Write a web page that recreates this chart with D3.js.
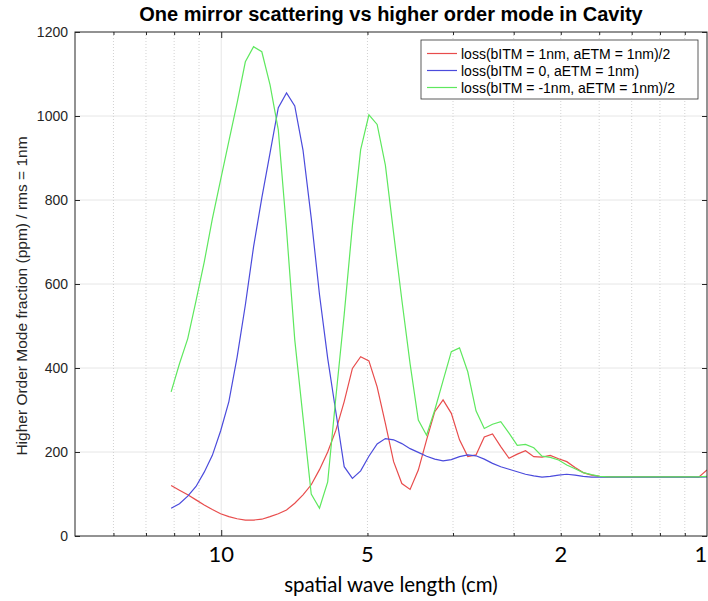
<!DOCTYPE html>
<html>
<head>
<meta charset="utf-8">
<script src="https://cdn.jsdelivr.net/npm/d3@7"></script>
<style>
  body { margin: 0; background: #fff; }
  text { font-family: "Liberation Sans", Arial, Helvetica, sans-serif; }
</style>
</head>
<body>
<div id="chart"></div>
<script>
// spatial wave length (cm) of every sample
var wavelength = [12.68,12.19,11.72,11.27,10.84,10.43,10.03,9.644,9.275,8.920,8.578,8.250,7.934,7.630,7.338,7.057,6.787,6.527,6.277,6.037,
  5.806,5.583,5.370,5.164,4.966,4.776,4.593,4.417,4.248,4.085,3.929,3.778,3.634,3.494,3.360,3.232,3.108,2.989,2.874,2.764,
  2.658,2.556,2.458,2.364,2.273,2.186,2.102,2.021,1.944,1.869,1.798,1.729,1.662,1.599,1.537,1.478,1.422,1.367,1.315,1.264,
  1.216,1.169,1.125,1.081,1.040,1.000];

// loss(bITM = 1nm, aETM = 1nm)/2
var lossRed = [120,109,98,86,74,63,53,46,41,38,38,40,46,53,62,78,98,122,158,200,
  252,320,399,427,417,355,268,177,125,111,157,229,296,324,292,229,189,193,236,243,
  213,185,195,203,189,188,192,184,177,163,151,145,142,141,141,141,141,141,141,141,
  141,141,141,141,140,157];

// loss(bITM = 0, aETM = 1nm)
var lossBlue = [66,77,95,118,152,192,250,320,426,550,689,805,912,1020,1055,1024,919,757,575,423,
  294,165,137,155,190,219,232,229,220,208,199,190,183,179,182,189,193,191,183,173,
  165,159,153,147,143,140,142,145,147,145,142,140,140,140,140,140,140,140,140,140,
  140,140,140,140,140,141];

// loss(bITM = -1nm, aETM = 1nm)/2
var lossGreen = [343,410,470,560,652,755,848,940,1031,1129,1165,1153,1074,967,729,467,283,100,66,129,
  332,527,739,920,1003,980,883,721,562,410,276,240,300,370,439,448,391,298,256,266,
  272,245,216,218,210,190,187,181,169,160,151,146,142,141,141,141,141,141,141,141,
  141,141,141,141,141,142];

var seriesNames  = ["loss(bITM = 1nm, aETM = 1nm)/2", "loss(bITM = 0, aETM = 1nm)", "loss(bITM = -1nm, aETM = 1nm)/2"];
var seriesColors = ["#e84c4c", "#4b4bdc", "#5ee85e"];

var xTickValues = [10, 5, 2, 1];
var xMinorTicks = [16.667, 14.286, 12.5, 11.111, 5, 3.333, 2.5, 2, 1.667, 1.429, 1.25, 1.111];
var xMajorGrid  = [10];
var yTickValues = [0, 200, 400, 600, 800, 1000, 1200];

var svgWidth = 708, svgHeight = 601;
var plotLeft = 75, plotRight = 707, plotTop = 32, plotBottom = 536;

var svg = d3.select("#chart").append("svg")
  .attr("width", svgWidth).attr("height", svgHeight);

var x = d3.scaleLog().domain([20, 1]).range([plotLeft, plotRight]);
var y = d3.scaleLinear().domain([0, 1200]).range([plotBottom, plotTop]);

// grid
svg.append("g").selectAll("line").data(yTickValues.slice(1, -1)).enter().append("line")
  .attr("x1", plotLeft).attr("x2", plotRight)
  .attr("y1", function(d) { return y(d); }).attr("y2", function(d) { return y(d); })
  .style("stroke", "#e6e6e6").style("stroke-width", 1);
svg.append("g").selectAll("line").data(xMinorTicks).enter().append("line")
  .attr("x1", function(d) { return x(d); }).attr("x2", function(d) { return x(d); })
  .attr("y1", plotTop).attr("y2", plotBottom)
  .style("stroke", "#d2d2d2").style("stroke-width", 1).style("stroke-dasharray", "1,2");
svg.append("g").selectAll("line").data(xMajorGrid).enter().append("line")
  .attr("x1", function(d) { return x(d); }).attr("x2", function(d) { return x(d); })
  .attr("y1", plotTop).attr("y2", plotBottom)
  .style("stroke", "#e6e6e6").style("stroke-width", 1);

// curves
svg.append("clipPath").attr("id", "clip").append("rect")
  .attr("x", plotLeft).attr("y", plotTop)
  .attr("width", plotRight - plotLeft).attr("height", plotBottom - plotTop);
var plot = svg.append("g").attr("clip-path", "url(#clip)");
var line = d3.line()
  .x(function(d) { return x(d[0]); })
  .y(function(d) { return y(d[1]); });
[lossRed, lossBlue, lossGreen].forEach(function(vals, k) {
  plot.append("path")
    .datum(wavelength.map(function(w, i) { return [w, vals[i]]; }))
    .attr("d", line)
    .style("fill", "none").style("stroke", seriesColors[k]).style("stroke-width", 1.2);
});

// axes (ticks inside the box, as MATLAB does)
function tidy(g) {
  g.select(".domain").remove();
  g.selectAll("line").style("stroke", "#262626");
}
svg.append("g").attr("transform", "translate(0," + plotBottom + ")")
  .call(d3.axisBottom(x).tickValues(xMinorTicks).tickSize(-3).tickFormat(""))
  .call(tidy);
svg.append("g").attr("transform", "translate(0," + plotBottom + ")")
  .call(d3.axisBottom(x).tickValues(xMajorGrid).tickSize(-6).tickFormat(""))
  .call(tidy);
svg.append("g").attr("transform", "translate(0," + plotTop + ")")
  .call(d3.axisTop(x).tickValues(xMinorTicks).tickSize(-3).tickFormat(""))
  .call(tidy);
svg.append("g").attr("transform", "translate(0," + plotTop + ")")
  .call(d3.axisTop(x).tickValues(xMajorGrid).tickSize(-6).tickFormat(""))
  .call(tidy);
var yAxis = svg.append("g").attr("transform", "translate(" + plotLeft + ",0)")
  .call(d3.axisLeft(y).tickValues(yTickValues).tickSize(-5).tickPadding(7).tickFormat(d3.format("d")))
  .call(tidy);
yAxis.selectAll("text").style("font-size", "14px").style("fill", "#262626")
  .style("font-family", "'Liberation Sans', Arial, sans-serif");
svg.append("g").attr("transform", "translate(" + plotRight + ",0)")
  .call(d3.axisRight(y).tickValues(yTickValues).tickSize(-5).tickFormat(""))
  .call(tidy);

// box
svg.append("rect").attr("x", plotLeft).attr("y", plotTop)
  .attr("width", plotRight - plotLeft).attr("height", plotBottom - plotTop)
  .style("fill", "none").style("stroke", "#262626").style("stroke-width", 1);

// x tick labels
svg.append("g").selectAll("text").data(xTickValues).enter().append("text")
  .attr("x", function(d) { return x(d) + (d === 1 ? -6 : 0); }).attr("y", 562)
  .attr("text-anchor", "middle")
  .style("font-family", "Lato, 'Open Sans', sans-serif").style("font-size", "22px")
  .text(function(d) { return d; });

// titles
svg.append("text").attr("x", (plotLeft + plotRight) / 2).attr("y", 21)
  .attr("text-anchor", "middle")
  .style("font-weight", "bold").style("font-size", "20px").style("fill", "#000")
  .text("One mirror scattering vs higher order mode in Cavity");
svg.append("text").attr("x", 391).attr("y", 592)
  .attr("text-anchor", "middle")
  .style("font-family", "Lato, 'Open Sans', sans-serif").style("font-size", "20.5px")
  .text("spatial wave length (cm)");
svg.append("text")
  .attr("transform", "translate(27,296) rotate(-90)")
  .attr("text-anchor", "middle")
  .style("font-size", "15.5px").style("fill", "#262626")
  .text("Higher Order Mode fraction (ppm) / rms = 1nm");

// legend
var legend = svg.append("g");
legend.append("rect").attr("x", 421).attr("y", 40).attr("width", 277).attr("height", 59)
  .style("fill", "#fff").style("stroke", "#333").style("stroke-width", 0.8);
seriesNames.forEach(function(name, k) {
  var ly = 53.5 + k * 17;
  legend.append("line").attr("x1", 427).attr("x2", 457).attr("y1", ly).attr("y2", ly)
    .style("stroke", seriesColors[k]).style("stroke-width", 1.2);
  legend.append("text").attr("x", 461).attr("y", ly + 5)
    .style("font-size", "14px").style("fill", "#000")
    .text(name);
});
</script>
</body>
</html>
